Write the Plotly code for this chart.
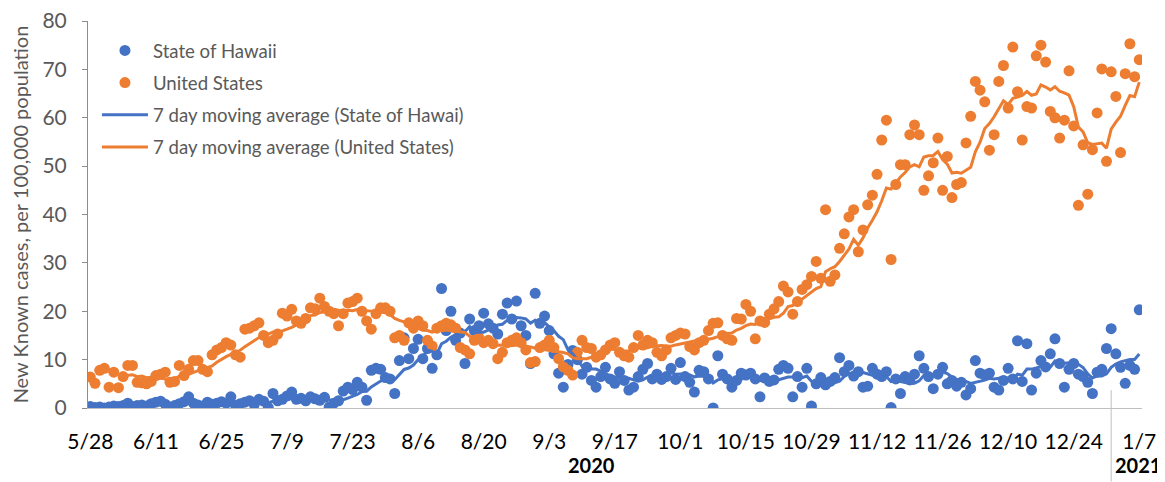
import pandas as pd
import plotly.graph_objects as go

# ---- data ----
start_date = "2020-05-28"

united_states = [
    6.4, 5.1, 7.8, 8.2, 4.3, 7.4, 4.2,
    6.5, 8.8, 8.8, 5.3, 5.2, 5.0, 5.5,
    6.7, 7.0, 7.4, 5.3, 5.5, 8.8, 6.7,
    8.0, 9.8, 9.8, 8.0, 7.5, 11.0, 12.0,
    12.5, 13.5, 13.0, 11.0, 10.5, 16.3, 16.5,
    17.0, 17.6, 15.0, 13.5, 14.0, 15.3, 19.6,
    19.0, 20.4, 18.0, 17.5, 18.5, 20.7, 20.5,
    22.7, 21.0, 20.0, 19.5, 17.0, 19.5, 21.7,
    22.0, 22.7, 20.0, 18.0, 16.3, 19.5, 20.7,
    20.7, 20.0, 14.5, 15.0, 14.0, 17.6, 16.5,
    18.0, 17.0, 14.0, 12.8, 16.5, 17.0, 17.5,
    17.2, 16.5, 12.5, 12.0, 11.2, 14.0, 14.5,
    13.5, 14.0, 13.3, 10.2, 11.5, 13.5, 14.0,
    14.5, 13.5, 12.0, 9.4, 9.6, 12.5, 13.0,
    14.0, 12.5, 10.2, 8.5, 7.8, 6.8, 11.5,
    14.0, 12.5, 12.3, 10.5, 11.0, 12.0, 13.0,
    13.5, 11.5, 10.8, 10.5, 12.5, 15.0, 13.0,
    14.0, 13.5, 11.5, 10.8, 12.0, 14.5, 15.0,
    15.5, 15.3, 12.7, 12.0, 13.5, 14.0, 16.0,
    17.5, 17.6, 15.0, 14.3, 14.0, 18.5, 18.4,
    21.4, 20.0, 14.3, 18.0, 17.7, 19.4, 20.5,
    22.0, 25.2, 24.0, 19.4, 22.0, 24.5, 25.5,
    27.2, 30.3, 26.8, 41.0, 26.2, 27.5, 33.0,
    36.0, 39.5, 41.0, 32.3, 36.8, 42.0, 44.0,
    48.3, 55.4, 59.5, 30.7, 46.2, 50.3, 50.3,
    56.5, 58.5, 56.5, 45.0, 48.0, 50.7, 55.8,
    45.0, 52.0, 43.5, 46.2, 46.6, 54.8, 60.3,
    67.5, 65.7, 63.3, 53.3, 56.5, 67.5, 70.8,
    62.0, 74.6, 65.4, 55.4, 62.3, 62.0, 72.8,
    75.0, 71.5, 61.3, 60.0, 55.8, 59.5, 69.7,
    58.3, 41.9, 54.4, 44.2, 53.4, 61.0, 70.1,
    51.0, 69.5, 64.4, 52.8, 69.1, 75.3, 68.5,
    72.0,
]

state_of_hawaii = [
    0.3, 0.1, 0.2, 0.0, 0.2, 0.4, 0.3,
    0.5, 1.0, 0.3, 0.5, 0.6, 0.4, 0.9,
    1.2, 1.4, 0.8, 0.2, 0.5, 0.9, 1.3,
    2.3, 1.0, 0.6, 0.4, 1.2, 0.8, 1.0,
    1.3, 1.0, 2.3, 0.5, 0.9, 1.2, 1.5,
    0.7, 1.8, 1.4, 0.1, 3.0, 1.5, 1.8,
    2.5, 3.3, 1.8, 2.0, 1.5, 2.3, 1.9,
    1.6, 2.2, 0.2, 1.0, 1.5, 3.5, 4.3,
    3.8, 5.3, 4.3, 1.6, 7.8, 8.2, 8.0,
    6.3, 6.0, 3.0, 9.8, 14.5, 10.2, 12.3,
    14.2, 10.2, 12.3, 8.2, 11.0, 24.7, 16.0,
    20.0, 14.0, 15.5, 9.2, 18.4, 16.0, 17.0,
    19.6, 17.4, 16.5, 15.3, 19.4, 21.7, 18.4,
    22.1, 17.0, 15.0, 9.2, 23.7, 17.5, 19.0,
    16.0, 11.2, 7.2, 4.3, 9.0, 11.9, 10.0,
    7.0, 8.4, 5.7, 4.3, 6.5, 8.4, 6.0,
    5.1, 7.5, 5.7, 3.7, 4.3, 6.5, 8.0,
    9.2, 6.0, 7.0, 5.9, 6.5, 8.2, 5.9,
    9.4, 6.5, 5.3, 3.3, 7.8, 7.5, 6.0,
    0.0, 10.8, 7.0, 6.0, 4.3, 5.7, 7.2,
    6.8, 7.2, 6.0, 2.3, 6.2, 5.5, 5.8,
    8.0, 8.8, 8.2, 2.3, 6.5, 4.3, 8.2,
    0.4, 5.0, 6.3, 4.8, 5.5, 6.3, 10.4,
    7.5, 8.8, 6.6, 7.5, 4.3, 4.5, 8.2,
    7.0, 6.5, 7.5, 0.1, 6.0, 3.0, 6.5,
    5.8, 7.0, 10.8, 8.2, 6.5, 4.0, 7.0,
    8.4, 5.0, 5.7, 4.5, 5.3, 2.7, 4.0,
    9.8, 7.2, 6.8, 7.2, 4.3, 3.7, 5.7,
    8.2, 6.0, 13.9, 5.5, 13.3, 3.7, 7.2,
    9.8, 8.5, 11.2, 14.3, 9.2, 4.3, 8.0,
    9.2, 7.0, 6.5, 5.3, 3.0, 7.4, 8.0,
    12.3, 16.4, 11.2, 8.4, 5.1, 8.8, 8.0,
    20.3,
]

year_labels = ["2020", "2021"]
window_days = 7

dates = pd.date_range(start_date, periods=len(united_states), freq="D")
df = pd.DataFrame({"date": dates, "us": united_states, "hi": state_of_hawaii})
df["us_ma"] = df["us"].rolling(window_days).mean()
df["hi_ma"] = df["hi"].rolling(window_days).mean()

BLUE = "#4472C4"
ORANGE = "#ED7D31"
GRAY = "#595959"
FONT = "Lato"

fig = go.Figure()
fig.add_trace(go.Scatter(x=df["date"], y=df["hi"], mode="markers", name="State of Hawaii",
                         legendgroup="a", marker=dict(color=BLUE, size=11)))
fig.add_trace(go.Scatter(x=df["date"], y=df["us"], mode="markers", name="United States",
                         legendgroup="b", marker=dict(color=ORANGE, size=11)))
fig.add_trace(go.Scatter(x=df["date"], y=df["hi_ma"], mode="lines",
                         name="7 day moving average (State of Hawai)",
                         legendgroup="c", line=dict(color=BLUE, width=3)))
fig.add_trace(go.Scatter(x=df["date"], y=df["us_ma"], mode="lines",
                         name="7 day moving average (United States)",
                         legendgroup="d", line=dict(color=ORANGE, width=3)))

# The page body has an 8px default margin; size the figure so that the
# plot lands where the reference draws it.
fig.update_layout(
    width=1157, height=474,
    margin=dict(l=80, r=23, t=13, b=74),
    paper_bgcolor="white", plot_bgcolor="white",
    font=dict(family=FONT, color=GRAY),
    showlegend=True,
    legend=dict(x=0.0085, y=0.972, xanchor="left", yanchor="top",
                bgcolor="rgba(0,0,0,0)", font=dict(size=18.6, color=GRAY, family=FONT),
                tracegroupgap=5, traceorder="grouped", itemwidth=46),
)

fig.update_xaxes(
    type="date",
    range=["2020-05-27 12:00", "2021-01-07 14:00"],
    tick0=start_date, dtick=14 * 86400000, tickformat="%-m/%-d",
    showline=True, linecolor="#BFBFBF", linewidth=1,
    ticks="", showgrid=False, zeroline=False,
    tickfont=dict(size=21, color="#000000", family=FONT),
    ticklabelstandoff=15, automargin=False, ticklabeloverflow="allow",
)
fig.update_yaxes(
    range=[0, 80], dtick=10,
    showline=True, linecolor="#8C8C8C", linewidth=1,
    ticks="outside", ticklen=5, tickcolor="#8C8C8C",
    showgrid=False, zeroline=False,
    tickfont=dict(size=21, color=GRAY, family=FONT),
    ticklabelstandoff=11, automargin=False, ticklabeloverflow="allow",
    title=dict(text="New Known cases, per 100,000 population",
               font=dict(size=20, color=GRAY, family=FONT), standoff=18),
)

# year group labels and separator (multi-level category axis look)
fig.add_annotation(x="2020-09-12", y=-0.148, xref="x", yref="paper", yanchor="middle",
                   text="<b>%s</b>" % year_labels[0], showarrow=False,
                   font=dict(size=20, color="#000000", family=FONT))
fig.add_annotation(x="2021-01-06 20:00", y=-0.148, xref="x", yref="paper", yanchor="middle",
                   text="<b>%s</b>" % year_labels[1], showarrow=False,
                   font=dict(size=20, color="#000000", family=FONT))
fig.add_shape(type="line", xref="x", yref="paper", x0="2021-01-01", x1="2021-01-01",
              y0=0.046, y1=-0.19, line=dict(color="#BFBFBF", width=1))

fig.write_html("out.html")
